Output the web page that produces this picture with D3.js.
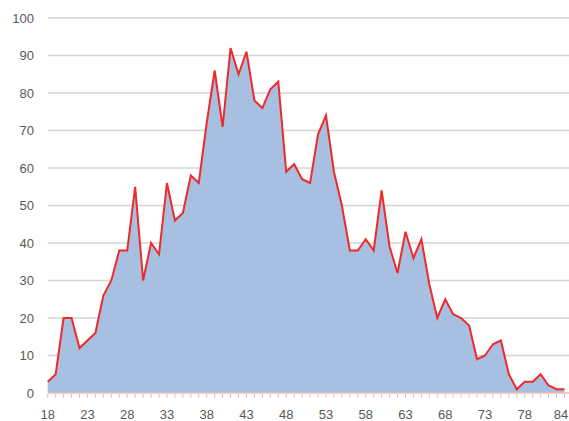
<!DOCTYPE html>
<html>
<head>
<meta charset="utf-8">
<script src="https://cdn.jsdelivr.net/npm/d3@7"></script>
<style>
  body { margin: 0; background: #fff; }
  text { font-family: "Liberation Sans", Arial, sans-serif; }
</style>
</head>
<body>
<script>
const w = 569
const h = 421

// ages on the category axis (one value between 78 and 84 is not present)
const ages = [18,19,20,21,22,23,24,25,26,27,28,29,30,31,32,33,34,35,36,37,
	38,39,40,41,42,43,44,45,46,47,48,49,50,51,52,53,54,55,56,57,
	58,59,60,61,62,63,64,65,66,67,68,69,70,71,72,73,74,75,76,77,
	78,79,80,81,82,84]
const counts = [3,5,20,20,12,14,16,26,30,38,38,55,30,40,37,56,46,48,58,56,
	72,86,71,92,85,91,78,76,81,83,59,61,57,56,69,74,59,50,38,38,
	41,38,54,39,32,43,36,41,29,20,25,21,20,18,9,10,13,14,5,1,
	3,3,5,2,1,1]
const yTicks = [0,10,20,30,40,50,60,70,80,90,100]
const labelEvery = 5

const data = ages.map((a, i) => ({age: a, count: counts[i]}))

const svg = d3.select("body").append("svg")
	.attr("width", w).attr("height", h)

const x = d3.scalePoint()
	.domain(ages)
	.range([47.7, 564.5])

const y = d3.scaleLinear()
	.domain([0, 100])
	.range([393, 18])

// gridlines
svg.append("g")
	.selectAll("line")
	.data(yTicks.filter(d => d > 0))
	.enter()
	.append("line")
		.attr("x1", 48).attr("x2", w)
		.attr("y1", d => y(d)).attr("y2", d => y(d))
		.attr("stroke", "#d4d4d4")
		.attr("stroke-width", 1.5)

// y labels
svg.append("g")
	.selectAll("text")
	.data(yTicks)
	.enter()
	.append("text")
	.text(d => d)
		.attr("x", 34)
		.attr("y", d => y(d))
		.attr("dy", ".35em")
		.attr("text-anchor", "end")
		.attr("font-size", "13px")
		.attr("fill", "#595959")

const areaFun = d3.area()
	.x(d => x(d.age))
	.y0(y(0))
	.y1(d => y(d.count))

svg.append("path")
	.attr("d", areaFun(data))
	.attr("fill", "#a7bfe0")

// axis line and category ticks
svg.append("line")
	.attr("x1", 48).attr("x2", w)
	.attr("y1", y(0)).attr("y2", y(0))
	.attr("stroke", "#f0b9b9")
	.attr("stroke-width", 1.5)

svg.append("g")
	.selectAll("line")
	.data(ages)
	.enter()
	.append("line")
		.attr("x1", d => x(d)).attr("x2", d => x(d))
		.attr("y1", y(0) + 1).attr("y2", y(0) + 4.5)
		.attr("stroke", "#c4c4c4")
		.attr("stroke-width", 1)

const lineFun = d3.line()
	.x(d => x(d.age))
	.y(d => y(d.count))

svg.append("path")
	.attr("d", lineFun(data))
	.attr("stroke", "#ee2a2a")
	.attr("stroke-width", 2)
	.attr("stroke-linejoin", "miter")
	.attr("fill", "none")

// x labels every 5th category (last one kept inside the window)
svg.append("g")
	.selectAll("text")
	.data(ages.filter((a, i) => i % labelEvery == 0))
	.enter()
	.append("text")
	.text(d => d)
		.attr("x", d => Math.min(x(d), w - 8))
		.attr("y", 414.5)
		.attr("dy", ".35em")
		.attr("text-anchor", "middle")
		.attr("font-size", "13px")
		.attr("fill", "#595959")
</script>
</body>
</html>
